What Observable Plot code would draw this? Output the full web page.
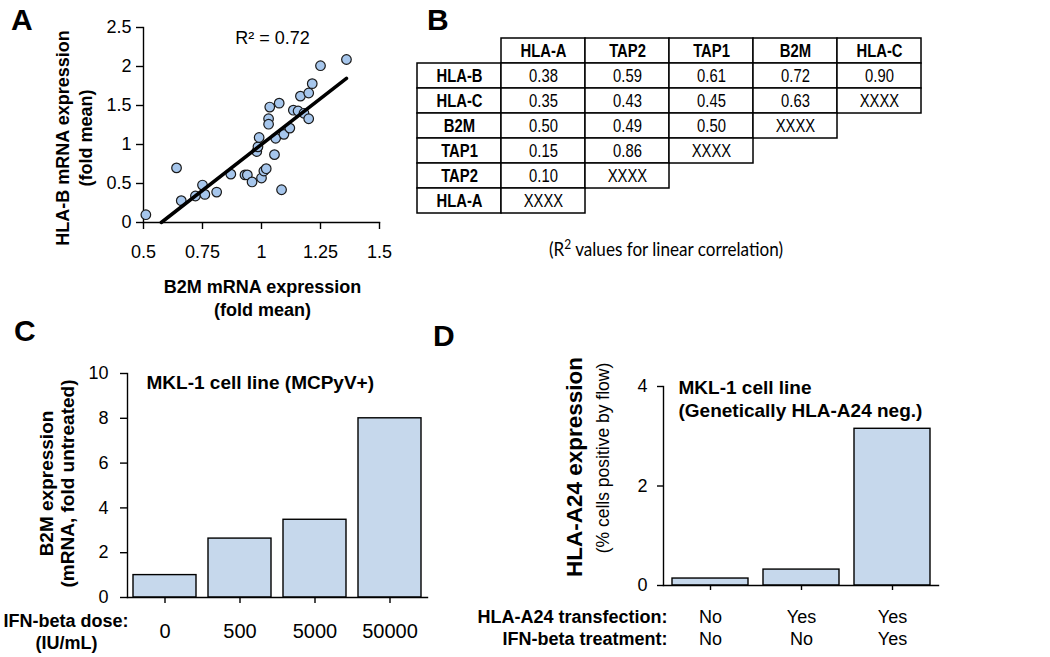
<!DOCTYPE html>
<html><head><meta charset="utf-8">
<script src="https://cdn.jsdelivr.net/npm/d3@7"></script>
<script src="https://cdn.jsdelivr.net/npm/@observablehq/plot@0.6"></script>
<style>
html,body{margin:0;padding:0;background:#fff;}
#fig{position:relative;width:1050px;height:657px;overflow:hidden;font-family:"Liberation Sans",Arial,sans-serif;color:#000;}
.panel{position:absolute;}
.panel svg{overflow:visible;}
.letter{position:absolute;font-weight:bold;font-size:30px;line-height:1;}
</style></head><body><div id="fig"></div>
<script>
// ---------- Panel A: scatter ----------
const b2mFold  = [0.51,0.64,0.66,0.72,0.75,0.76,0.81,0.87,0.93,0.94,0.96,0.98,0.985,0.99,1.00,1.01,1.02,1.03,1.03,1.035,1.055,1.06,1.075,1.085,1.095,1.12,1.135,1.155,1.165,1.18,1.20,1.20,1.215,1.25,1.36];
const hlaBFold = [0.10,0.70,0.28,0.34,0.48,0.36,0.39,0.62,0.61,0.61,0.52,0.91,0.97,1.09,0.57,0.66,0.69,1.33,1.26,1.48,0.87,1.08,1.53,0.42,1.13,1.21,1.44,1.43,1.62,1.40,1.66,1.33,1.78,2.01,2.09];
const aXTicks = [0.5,0.75,1,1.25,1.5];
const aYTicks = [0,0.5,1,1.5,2,2.5];
const aR2Label = "R\u00b2 = 0.72";

// ---------- Panel B: R² table ----------
const tableColumns = ["HLA-A","TAP2","TAP1","B2M","HLA-C"];
const tableRows = ["HLA-B","HLA-C","B2M","TAP1","TAP2","HLA-A"];
const r2Values = [
  [0.38,0.59,0.61,0.72,0.90],
  [0.35,0.43,0.45,0.63,null],
  [0.50,0.49,0.50,null,null],
  [0.15,0.86,null,null,null],
  [0.10,null,null,null,null],
  [null,null,null,null,null]
];
const tableCaption = ["(R", "2", " values for linear correlation)"];

// ---------- Panel C: IFN-beta dose bars ----------
const ifnDoses = ["0","500","5000","50000"];
const b2mFoldUntreated = [1.0,2.63,3.47,8.0];
const cYTicks = [0,2,4,6,8,10];

// ---------- Panel D: HLA-A24 bars ----------
const a24Transfection = ["No","Yes","Yes"];
const ifnTreatment = ["No","No","Yes"];
const a24PercentPositive = [0.14,0.32,3.15];
const dYTicks = [0,2,4];

const BAR_FILL = "#c6d8ec";
const DOT_FILL = "#a6c6ec";
const baseStyle = {fontFamily:"'Liberation Sans', Arial, sans-serif", fontSize:"18px", color:"black", background:"transparent", overflow:"visible"};
const fig = document.getElementById("fig");
function place(node, left, top){ const d=document.createElement("div"); d.className="panel"; d.style.left=left+"px"; d.style.top=top+"px"; d.appendChild(node); fig.appendChild(d); }
function letter(t, left, top){ const d=document.createElement("div"); d.className="letter"; d.textContent=t; d.style.left=left+"px"; d.style.top=top+"px"; fig.appendChild(d); }
const MID = {textAnchor:"middle", lineAnchor:"middle"};

// ----- A -----
const pts = b2mFold.map((x,i)=>({x, y:hlaBFold[i]}));
const mx = d3.mean(b2mFold), my = d3.mean(hlaBFold);
const slope = d3.sum(pts, p=>(p.x-mx)*(p.y-my)) / d3.sum(pts, p=>(p.x-mx)**2);
const icpt = my - slope*mx;
const xStart = Math.max(d3.min(b2mFold), -icpt/slope);
const fit = [xStart, d3.max(b2mFold)].map(x=>({x, y:icpt+slope*x}));

const plotA = Plot.plot({
  width:400, height:330, marginLeft:143, marginRight:21, marginTop:27, marginBottom:108,
  style: baseStyle,
  x:{domain:[0.5,1.5]}, y:{domain:[0,2.5]},
  marks:[
    Plot.axisY({ticks:aYTicks, tickFormat:d=>String(d), tickSize:7, tickPadding:5, fontSize:18, label:null, strokeWidth:1.4}),
    Plot.axisX({ticks:aXTicks, tickFormat:d=>String(d), tickSize:7, tickPadding:16, fontSize:18, label:null, strokeWidth:1.4}),
    Plot.frame({anchor:"left", strokeWidth:1.4}),
    Plot.frame({anchor:"bottom", strokeWidth:1.4}),
    Plot.dot(pts, {x:"x", y:"y", r:4.8, fill:DOT_FILL, stroke:"#1a1a1a", strokeWidth:1.2}),
    Plot.line(fit, {x:"x", y:"y", stroke:"black", strokeWidth:3.5}),
    Plot.text([aR2Label], {...MID, frameAnchor:"top", dx:11, dy:10.5, fontSize:18}),
    Plot.text(["HLA-B mRNA expression\n(fold mean)"], {...MID, frameAnchor:"left", rotate:-90, dx:-70, dy:13, fontSize:18, fontWeight:"bold", lineHeight:1.27}),
    Plot.text(["B2M mRNA expression\n(fold mean)"], {...MID, frameAnchor:"bottom", dx:1, dy:75, fontSize:18, fontWeight:"bold", lineHeight:1.27})
  ]
});
place(plotA, 0, 0);

// ----- B -----
const cellData = [];
tableColumns.forEach(c=>cellData.push({col:c, row:"_head", text:c, kind:"head"}));
tableRows.forEach(r=>cellData.push({col:"_head", row:r, text:r, kind:"head"}));
tableRows.forEach((r,i)=>tableColumns.forEach((c,j)=>{
  const v = r2Values[i][j];
  if (c===r) cellData.push({col:c, row:r, text:"XXXX", kind:"val"});
  else if (v!=null) cellData.push({col:c, row:r, text:v.toFixed(2), kind:"val"});
}));
const captionText = tableCaption.join("");
const plotB = Plot.plot({
  width:650, height:270, marginLeft:16, marginRight:129, marginTop:38, marginBottom:57,
  style: baseStyle,
  x:{type:"band", domain:["_head", ...tableColumns], padding:0, axis:null},
  y:{type:"band", domain:["_head", ...tableRows], padding:0, axis:null},
  marks:[
    Plot.cell(cellData, {x:"col", y:"row", fill:"white", stroke:"black", strokeWidth:1.5}),
    Plot.text(cellData.filter(d=>d.kind==="head"), {...MID, x:"col", y:"row", text:"text", fontWeight:"bold", fontSize:18.5}),
    Plot.text(cellData.filter(d=>d.kind==="val"), {...MID, x:"col", y:"row", text:"text", fontSize:18.5}),
    Plot.text([captionText], {...MID, frameAnchor:"bottom", dx:-3, dy:36, fontSize:20, fontFamily:"Lato, 'Open Sans', sans-serif"})
  ]
});
place(plotB, 400, 0);
// the reference table uses a condensed face: compress glyphs horizontally
plotB.querySelectorAll("text").forEach(t=>{
  if (t.textContent === captionText) {
    // rebuild caption with a true superscript "2"
    t.textContent = "";
    const ns = "http://www.w3.org/2000/svg";
    const a = document.createElementNS(ns, "tspan"); a.textContent = tableCaption[0];
    const b = document.createElementNS(ns, "tspan"); b.textContent = tableCaption[1];
    b.setAttribute("dy", "-7"); b.setAttribute("font-size", "14");
    const c = document.createElementNS(ns, "tspan"); c.textContent = tableCaption[2];
    c.setAttribute("dy", "7");
    t.append(a, b, c);
    t.setAttribute("textLength", "234");
    t.setAttribute("lengthAdjust", "spacingAndGlyphs");
  } else {
    const w = t.getComputedTextLength();
    t.setAttribute("textLength", (w*0.8).toFixed(1));
    t.setAttribute("lengthAdjust", "spacingAndGlyphs");
  }
});

// ----- C -----
const cData = ifnDoses.map((d,i)=>({dose:d, value:b2mFoldUntreated[i]}));
const plotC = Plot.plot({
  width:440, height:347, marginLeft:127, marginRight:13, marginTop:63, marginBottom:60,
  style: baseStyle,
  x:{type:"band", domain:ifnDoses, paddingInner:0.16, paddingOuter:0.08},
  y:{domain:[0,10]},
  marks:[
    Plot.barY(cData, {x:"dose", y:"value", fill:BAR_FILL, stroke:"black", strokeWidth:1.4}),
    Plot.frame({anchor:"left", strokeWidth:1.4}),
    Plot.frame({anchor:"bottom", strokeWidth:1.4}),
    Plot.axisY({ticks:cYTicks, tickSize:7, tickPadding:12, fontSize:18, label:null, strokeWidth:1.4}),
    Plot.axisX({tickSize:6, tickPadding:20, fontSize:20, label:null, strokeWidth:1.4}),
    Plot.text(["MKL-1 cell line (MCPyV+)"], {frameAnchor:"top-left", textAnchor:"start", lineAnchor:"middle", dx:19, dy:9, fontSize:19, fontWeight:"bold"}),
    Plot.text(["B2M expression\n(mRNA, fold untreated)"], {...MID, frameAnchor:"left", rotate:-90, dx:-71, dy:-2, fontSize:19, fontWeight:"bold", lineHeight:1.1}),
    Plot.text(["IFN-beta dose:"], {frameAnchor:"bottom-left", textAnchor:"end", lineAnchor:"middle", dx:1, dy:24, fontSize:18, fontWeight:"bold"}),
    Plot.text(["(IU/mL)"], {...MID, frameAnchor:"bottom-left", dx:-61, dy:46, fontSize:18, fontWeight:"bold"})
  ]
});
place(plotC, 0, 310);

// ----- D -----
const dData = a24Transfection.map((t,i)=>({key:t+"/"+ifnTreatment[i], transfection:t, ifn:ifnTreatment[i], value:a24PercentPositive[i]}));
const plotD = Plot.plot({
  width:530, height:347, marginLeft:143, marginRight:112, marginTop:76, marginBottom:72,
  style: baseStyle,
  x:{type:"band", domain:dData.map(d=>d.key), paddingInner:0.17, paddingOuter:0.09},
  y:{domain:[0,4]},
  marks:[
    Plot.barY(dData, {x:"key", y:"value", fill:BAR_FILL, stroke:"black", strokeWidth:1.4}),
    Plot.frame({anchor:"left", strokeWidth:1.4}),
    Plot.frame({anchor:"bottom", strokeWidth:1.4}),
    Plot.axisY({ticks:dYTicks, tickFormat:d=>String(d), tickSize:6, tickPadding:10, fontSize:18, label:null, strokeWidth:1.4}),
    Plot.axisX({tickSize:5, tickFormat:()=>"", label:null, strokeWidth:1.4}),
    Plot.text(dData, {...MID, x:"key", text:"transfection", frameAnchor:"bottom", dy:31.5, fontSize:18}),
    Plot.text(dData, {...MID, x:"key", text:"ifn", frameAnchor:"bottom", dy:53.5, fontSize:18}),
    Plot.text(["HLA-A24 transfection:"], {frameAnchor:"bottom-left", textAnchor:"end", lineAnchor:"middle", dx:4, dy:31.5, fontSize:18, fontWeight:"bold"}),
    Plot.text(["IFN-beta treatment:"], {frameAnchor:"bottom-left", textAnchor:"end", lineAnchor:"middle", dx:4, dy:53.5, fontSize:18, fontWeight:"bold"}),
    Plot.text(["MKL-1 cell line\n(Genetically HLA-A24 neg.)"], {frameAnchor:"top-left", textAnchor:"start", lineAnchor:"middle", dx:15, dy:11.5, fontSize:19, fontWeight:"bold", lineHeight:1.21}),
    Plot.text(["HLA-A24 expression"], {...MID, frameAnchor:"left", rotate:-90, dx:-89, dy:-19, fontSize:22.5, fontWeight:"bold"}),
    Plot.text(["(% cells positive by flow)"], {...MID, frameAnchor:"left", rotate:-90, dx:-60, dy:-28, fontSize:17.5})
  ]
});
place(plotD, 520, 310);

letter("A", 11, 4.6);
letter("B", 427, 4.6);
letter("C", 14, 315.6);
letter("D", 433, 320.6);
</script></body></html>
